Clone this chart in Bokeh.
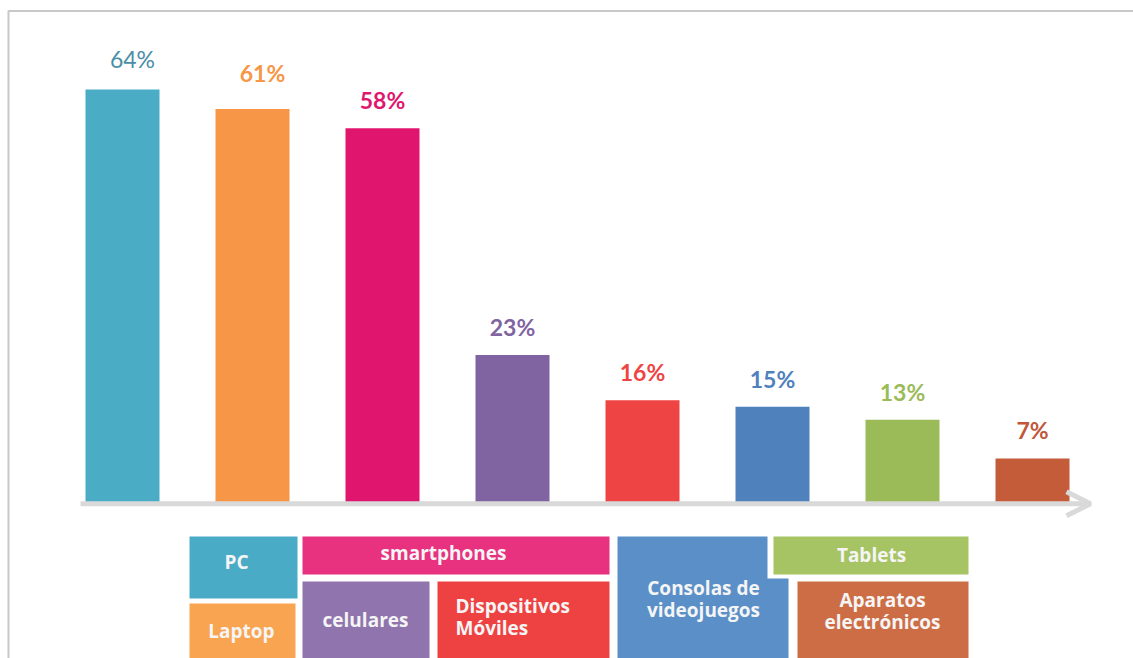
from bokeh.plotting import figure
from bokeh.models import Range1d, ColumnDataSource, Arrow, OpenHead
from bokeh.core.properties import value
from bokeh.embed import file_html
from bokeh.resources import INLINE

# ---------------- data ----------------
categories = ["PC", "Laptop", "smartphones", "celulares",
              "Dispositivos\nMóviles", "Consolas de\nvideojuegos",
              "Tablets", "Aparatos\nelectrónicos"]
percentages = [64, 61, 58, 23, 16, 15, 13, 7]
value_labels = [f"{v}%" for v in percentages]

# ---------------- styles ----------------
bar_colors = ["#4bacc6", "#f79646", "#e0166e", "#8064a2",
              "#ef4444", "#4f81bd", "#9bbb59", "#c45c3a"]
label_colors = ["#4a8ea6", "#f79646", "#e0176e", "#8064a2",
                "#ef4444", "#4f81bd", "#9bbb59", "#c0563a"]
label_styles = ["normal"] + ["bold"] * 7
label_dx = [10, 10, 0, 0, 0, 0, 0, 0]
label_dy = [-30, -36, -28, -28, -28, -28, -28, -28]
legend_colors = ["#4aabc6", "#f9a450", "#e8317f", "#8f74ae",
                 "#ee4242", "#5b8fc7", "#a6c464", "#cd6d45"]

W, H = 1133, 658
BASE_PX = 503.3        # pixel row of the value axis zero
PX_PER_PCT = 6.474
FIRST_PX = 122.0
PITCH_PX = 130.0
BAR_PX = 74.0

# legend box layout in pixels (polygons)
legend_boxes = [
    [(189, 536), (297, 536), (297, 598), (189, 598)],
    [(189, 603), (295, 603), (295, 662), (189, 662)],
    [(302, 536), (609, 536), (609, 574), (302, 574)],
    [(302, 581), (429, 581), (429, 662), (302, 662)],
    [(437, 581), (609, 581), (609, 662), (437, 662)],
    [(617, 536), (767, 536), (767, 578), (788, 578), (788, 662), (617, 662)],
    [(773, 536), (968, 536), (968, 574), (773, 574)],
    [(797, 581), (968, 581), (968, 662), (797, 662)],
]
# text anchor: x, first baseline, align
legend_text_pos = [
    (236, 561, "center"),
    (241, 630, "center"),
    (443, 552, "center"),
    (365, 619, "center"),
    (455, 605, "left"),
    (703, 587, "center"),
    (871, 554, "center"),
    (882, 599, "center"),
]
LINE_STEP = 22

# ---------------- figure ----------------
x_range = Range1d(-FIRST_PX / PITCH_PX, (W - FIRST_PX) / PITCH_PX)
y_range = Range1d(-(H - BASE_PX) / PX_PER_PCT, BASE_PX / PX_PER_PCT)

p = figure(width=W, height=H, x_range=x_range, y_range=y_range,
           output_backend="svg", toolbar_location=None,
           min_border=0, outline_line_color=None, background_fill_color="white")
p.extra_x_ranges = {"px_x": Range1d(0, W)}
p.extra_y_ranges = {"px_y": Range1d(H, 0)}
p.axis.visible = False
p.grid.visible = False

# frame border lines (left and top)
p.segment(x0=[8, 8], y0=[10, 10.5], x1=[8, W], y1=[H, 10.5],
          line_color="#c8c8c8", line_width=2,
          x_range_name="px_x", y_range_name="px_y")

src = ColumnDataSource(dict(
    x=list(range(len(categories))),
    pct=percentages,
    label=value_labels,
    color=bar_colors,
    lcolor=label_colors,
    style=label_styles,
    dx=label_dx,
    dy=label_dy,
))

p.vbar(x="x", top="pct", bottom=0, width=BAR_PX / PITCH_PX,
       fill_color="color", line_color=None, source=src)

p.text(x="x", y="pct", text="label", text_color="lcolor",
       text_font=value("Lato"), text_font_size="23px",
       text_font_style="style", text_align="center",
       text_baseline="alphabetic", x_offset="dx", y_offset="dy", source=src)

# category axis drawn as a light gray arrow
arrow = Arrow(x_start=80, y_start=BASE_PX, x_end=1090, y_end=BASE_PX,
              line_color="#d9d9d9", line_width=5,
              end=OpenHead(size=24, line_color="#d9d9d9", line_width=5),
              x_range_name="px_x", y_range_name="px_y")
p.add_layout(arrow)

# legend blocks
p.patches(xs=[[pt[0] for pt in b] for b in legend_boxes],
          ys=[[pt[1] for pt in b] for b in legend_boxes],
          fill_color=legend_colors, line_color=None,
          x_range_name="px_x", y_range_name="px_y")

tx, ty, tt, ta = [], [], [], []
for cat, (x, y, align) in zip(categories, legend_text_pos):
    for k, line in enumerate(cat.split("\n")):
        tx.append(x)
        ty.append(y + k * LINE_STEP)
        tt.append(line)
        ta.append(align)
p.text(x=tx, y=ty, text=tt, text_align=ta, text_baseline="alphabetic",
       text_color="#f5f5f5", text_font=value("Open Sans"), text_font_size="19px",
       text_font_style="bold", x_range_name="px_x", y_range_name="px_y")

open("out.html", "w").write(file_html(p, INLINE))
